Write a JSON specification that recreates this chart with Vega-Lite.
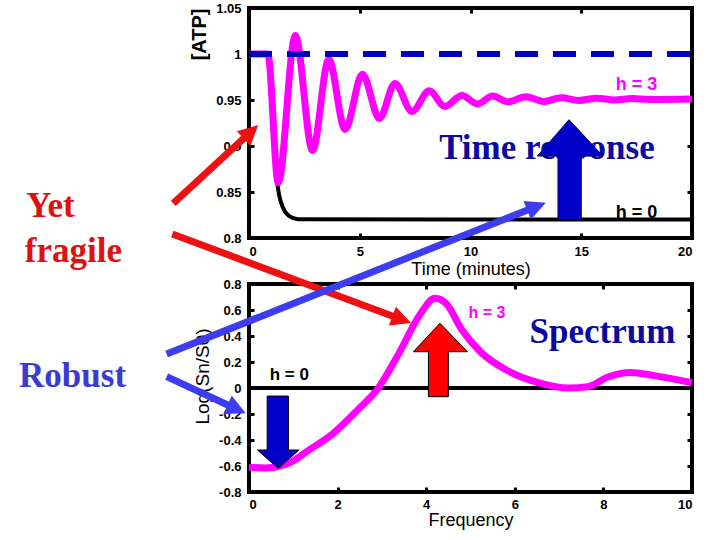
{
  "$schema": "https://vega.github.io/schema/vega-lite/v6.json",
  "background": "white",
  "padding": {"left": 17, "top": 0, "right": 0, "bottom": 0},
  "config": {
    "view": {"stroke": "black", "strokeWidth": 4},
    "font": "Liberation Sans",
    "axis": {"grid": false, "ticks": true, "tickSize": -5, "tickWidth": 3, "tickColor": "black", "domain": false, "labelFont": "Liberation Sans", "labelFontWeight": "bold", "labelFontSize": 13, "labelColor": "black", "titleColor": "black", "titleFont": "Liberation Sans"}
  },
  "datasets": {
    "atp_h3": [
      {"t": 0, "v": 1}, {"t": 0.85, "v": 1}, {"t": 1.32, "v": 0.86}, {"t": 2.09, "v": 1.02},
      {"t": 2.87, "v": 0.895}, {"t": 3.6, "v": 0.994}, {"t": 4.34, "v": 0.918}, {"t": 5.12, "v": 0.978},
      {"t": 5.89, "v": 0.93}, {"t": 6.59, "v": 0.968}, {"t": 7.36, "v": 0.9375}, {"t": 8.14, "v": 0.96},
      {"t": 8.84, "v": 0.943}, {"t": 9.61, "v": 0.955}, {"t": 10.31, "v": 0.9457}, {"t": 11.0, "v": 0.9543},
      {"t": 11.7, "v": 0.948}, {"t": 12.5, "v": 0.9535}, {"t": 13.3, "v": 0.9485}, {"t": 14.1, "v": 0.9525},
      {"t": 14.9, "v": 0.9495}, {"t": 15.7, "v": 0.952}, {"t": 16.5, "v": 0.95}, {"t": 17.3, "v": 0.9515},
      {"t": 18.1, "v": 0.9505}, {"t": 20, "v": 0.951}
    ],
    "atp_h0": [
      {"t": 0, "v": 1}, {"t": 0.9, "v": 1}, {"t": 1.05, "v": 0.93}, {"t": 1.2, "v": 0.875},
      {"t": 1.35, "v": 0.848}, {"t": 1.55, "v": 0.832}, {"t": 1.8, "v": 0.824}, {"t": 2.2, "v": 0.8205},
      {"t": 20, "v": 0.82}
    ],
    "atp_base": [{"t": 0, "v": 1}, {"t": 20, "v": 1}],
    "spec_h3": [
      {"t": 0, "v": -0.61}, {"t": 0.35, "v": -0.615}, {"t": 0.7, "v": -0.6}, {"t": 1.0, "v": -0.56},
      {"t": 1.3, "v": -0.49}, {"t": 1.9, "v": -0.35}, {"t": 2.45, "v": -0.17}, {"t": 2.92, "v": 0},
      {"t": 3.39, "v": 0.27}, {"t": 3.85, "v": 0.56}, {"t": 4.2, "v": 0.69}, {"t": 4.45, "v": 0.65},
      {"t": 4.8, "v": 0.45}, {"t": 5.25, "v": 0.27}, {"t": 5.8, "v": 0.14}, {"t": 6.55, "v": 0.04},
      {"t": 7.2, "v": 0.0}, {"t": 7.65, "v": 0.01}, {"t": 8.1, "v": 0.085}, {"t": 8.6, "v": 0.12},
      {"t": 9.15, "v": 0.095}, {"t": 10, "v": 0.04}
    ],
    "spec_h0": [{"t": 0, "v": 0}, {"t": 10, "v": 0}]
  },
  "vconcat": [
    {
      "width": 443,
      "height": 230,
      "resolve": {"axis": {"x": "independent", "y": "independent"}},
      "layer": [
        {
          "encoding": {
            "x": {"field": "t", "type": "quantitative", "scale": {"domain": [0, 20], "nice": false, "zero": false},
              "axis": {"values": [0, 5, 10, 15, 20], "title": "Time (minutes)", "titleFontSize": 18, "titleFontWeight": "normal", "titlePadding": 2, "labelPadding": 12}},
            "y": {"field": "v", "type": "quantitative", "scale": {"domain": [0.8, 1.05], "nice": false, "zero": false},
              "axis": {"values": [0.8, 0.85, 0.9, 0.95, 1, 1.05], "labelExpr": "replace(format(datum.value, '~g'), '\u2212', '-')", "title": "[ATP]", "titleAnchor": "end", "titleFontSize": 20, "titleFontWeight": "bold", "titlePadding": 6, "labelPadding": 13}}
          },
          "layer": [
            {"data": {"name": "atp_h0"}, "mark": {"type": "line", "color": "black", "strokeWidth": 4, "interpolate": "monotone"}},
            {"data": {"name": "atp_h3"}, "mark": {"type": "line", "color": "#ff00ff", "strokeWidth": 7, "interpolate": "monotone"}},
            {"data": {"name": "atp_base"}, "mark": {"type": "line", "color": "#0000c0", "strokeWidth": 6, "strokeDash": [23, 15]}},
            {"data": {"values": [{"t": 17.5, "v": 0.961, "label": "h = 3"}]},
              "mark": {"type": "text", "color": "#ff00ff", "fontSize": 18, "fontWeight": "bold", "align": "center", "baseline": "alphabetic"},
              "encoding": {"text": {"field": "label"}}},
            {"data": {"values": [{"t": 17.5, "v": 0.8215, "label": "h = 0"}]},
              "mark": {"type": "text", "color": "black", "fontSize": 18, "fontWeight": "bold", "align": "center", "baseline": "alphabetic"},
              "encoding": {"text": {"field": "label"}}},
            {"data": {"values": [{"t": 13.45, "v": 0.886, "label": "Time response"}]},
              "mark": {"type": "text", "color": "#0a0aa0", "font": "Liberation Serif", "fontSize": 35, "fontWeight": "bold", "align": "center", "baseline": "alphabetic"},
              "encoding": {"text": {"field": "label"}}},
            {"data": {"values": [
                {"v": 0.82, "t": 13.95, "t2": 15.0},
                {"v": 0.889, "t": 13.95, "t2": 15.0},
                {"v": 0.8891, "t": 13.02, "t2": 15.97},
                {"v": 0.9286, "t": 14.45, "t2": 14.45}]},
              "mark": {"type": "area", "orient": "horizontal", "color": "#0000c8", "stroke": "#00005a", "strokeWidth": 1, "opacity": 1},
              "encoding": {"x2": {"field": "t2"}}},
            {"data": {"values": [{"t": -3.42, "v": 0.8377, "t2": 0.02, "v2": 0.914}]},
              "mark": {"type": "rule", "color": "#ee1111", "strokeWidth": 7},
              "encoding": {"x2": {"field": "t2"}, "y2": {"field": "v2"}}},
            {"data": {"values": [{"t": 0.42, "v": 0.9228}]},
              "mark": {"type": "point", "shape": "M0,0L-1,2L1,2Z", "size": 400, "filled": true, "opacity": 1, "color": "#ee1111", "angle": 47.4}}
          ]
        },
        {
          "data": {"name": "atp_base"},
          "mark": {"type": "line", "opacity": 0},
          "encoding": {
            "x": {"field": "t", "type": "quantitative", "scale": {"domain": [0, 20], "nice": false, "zero": false},
              "axis": {"orient": "top", "values": [5, 10, 15], "labels": false, "title": null}},
            "y": {"field": "v", "type": "quantitative", "scale": {"domain": [0.8, 1.05], "nice": false, "zero": false},
              "axis": {"orient": "right", "values": [0.85, 0.9, 0.95, 1], "labels": false, "title": null}}
          }
        }
      ]
    },
    {
      "width": 443,
      "height": 208,
      "resolve": {"axis": {"x": "independent", "y": "independent"}},
      "layer": [
        {
          "encoding": {
            "x": {"field": "t", "type": "quantitative", "scale": {"domain": [0, 10], "nice": false, "zero": false},
              "axis": {"values": [0, 2, 4, 6, 8, 10], "title": "Frequency", "titleFontSize": 18, "titleFontWeight": "normal", "titlePadding": 0, "labelPadding": 11}},
            "y": {"field": "v", "type": "quantitative", "scale": {"domain": [-0.8, 0.8], "nice": false, "zero": false},
              "axis": {"values": [-0.8, -0.6, -0.4, -0.2, 0, 0.2, 0.4, 0.6, 0.8], "labelExpr": "replace(format(datum.value, '~g'), '\u2212', '-')", "title": "Log(Sn/S0)", "titleFontSize": 19, "titleFontWeight": "normal", "titlePadding": 6, "titleY": 92, "labelPadding": 13}}
          },
          "layer": [
            {"data": {"name": "spec_h0"}, "mark": {"type": "line", "color": "black", "strokeWidth": 4}},
            {"data": {"name": "spec_h3"}, "mark": {"type": "line", "color": "#ff00ff", "strokeWidth": 7, "interpolate": "monotone"}},
            {"data": {"values": [{"t": 5.37, "v": 0.541, "label": "h = 3"}]},
              "mark": {"type": "text", "color": "#ff00ff", "fontSize": 16, "fontWeight": "bold", "align": "center", "baseline": "alphabetic"},
              "encoding": {"text": {"field": "label"}}},
            {"data": {"values": [{"t": 0.91, "v": 0.062, "label": "h = 0"}]},
              "mark": {"type": "text", "color": "black", "fontSize": 17, "fontWeight": "bold", "align": "center", "baseline": "alphabetic"},
              "encoding": {"text": {"field": "label"}}},
            {"data": {"values": [{"t": 7.98, "v": 0.345, "label": "Spectrum"}]},
              "mark": {"type": "text", "color": "#0a0aa0", "font": "Liberation Serif", "fontSize": 35, "fontWeight": "bold", "align": "center", "baseline": "alphabetic"},
              "encoding": {"text": {"field": "label"}}},
            {"data": {"values": [{"t": -5.03, "v": 1.313, "label": "Yet"}, {"t": -5.06, "v": 0.972, "label": "fragile"}]},
              "mark": {"type": "text", "color": "#e01010", "font": "Liberation Serif", "fontSize": 35, "fontWeight": "bold", "align": "left", "baseline": "alphabetic"},
              "encoding": {"text": {"field": "label"}}},
            {"data": {"values": [{"t": -5.19, "v": 0.0054, "label": "Robust"}]},
              "mark": {"type": "text", "color": "#3a3ad6", "font": "Liberation Serif", "fontSize": 35, "fontWeight": "bold", "align": "left", "baseline": "alphabetic"},
              "encoding": {"text": {"field": "label"}}},
            {"data": {"values": [
                {"v": -0.067, "t": 4.05, "t2": 4.5},
                {"v": 0.279, "t": 4.05, "t2": 4.5},
                {"v": 0.2791, "t": 3.71, "t2": 4.93},
                {"v": 0.498, "t": 4.31, "t2": 4.31}]},
              "mark": {"type": "area", "orient": "horizontal", "color": "#ff0000", "stroke": "black", "strokeWidth": 1, "opacity": 1},
              "encoding": {"x2": {"field": "t2"}}},
            {"data": {"values": [
                {"v": -0.618, "t": 0.66, "t2": 0.66},
                {"v": -0.477, "t": 0.19, "t2": 1.13},
                {"v": -0.4769, "t": 0.41, "t2": 0.89},
                {"v": -0.062, "t": 0.41, "t2": 0.89}]},
              "mark": {"type": "area", "orient": "horizontal", "color": "#0000c8", "stroke": "black", "strokeWidth": 1, "opacity": 1},
              "encoding": {"x2": {"field": "t2"}}},
            {"data": {"values": [{"t": -1.731, "v": 1.185, "t2": 3.4, "v2": 0.532}]},
              "mark": {"type": "rule", "color": "#ee1111", "strokeWidth": 7},
              "encoding": {"x2": {"field": "t2"}, "y2": {"field": "v2"}}},
            {"data": {"values": [{"t": 3.66, "v": 0.5}]},
              "mark": {"type": "point", "shape": "M0,0L-1,2L1,2Z", "size": 400, "filled": true, "opacity": 1, "color": "#ee1111", "angle": 110.4}},
            {"data": {"values": [{"t": -1.858, "v": 0.2615, "t2": 6.447, "v2": 1.391}, {"t": -1.858, "v": 0.087, "t2": -0.32, "v2": -0.156}]},
              "mark": {"type": "rule", "color": "#3c3cf0", "strokeWidth": 7},
              "encoding": {"x2": {"field": "t2"}, "y2": {"field": "v2"}}},
            {"data": {"values": [{"t": 6.7, "v": 1.425}]},
              "mark": {"type": "point", "shape": "M0,0L-1,2L1,2Z", "size": 400, "filled": true, "opacity": 1, "color": "#3c3cf0", "angle": 68.2}},
            {"data": {"values": [{"t": -0.074, "v": -0.195}]},
              "mark": {"type": "point", "shape": "M0,0L-1,2L1,2Z", "size": 400, "filled": true, "opacity": 1, "color": "#3c3cf0", "angle": 114.9}}
          ]
        },
        {
          "data": {"name": "spec_h0"},
          "mark": {"type": "line", "opacity": 0},
          "encoding": {
            "x": {"field": "t", "type": "quantitative", "scale": {"domain": [0, 10], "nice": false, "zero": false},
              "axis": {"orient": "top", "values": [2, 4, 6, 8], "labels": false, "title": null}},
            "y": {"field": "v", "type": "quantitative", "scale": {"domain": [-0.8, 0.8], "nice": false, "zero": false},
              "axis": {"orient": "right", "values": [-0.6, -0.4, -0.2, 0, 0.2, 0.4, 0.6], "labels": false, "title": null}}
          }
        }
      ]
    }
  ],
  "spacing": 46,
  "bounds": "flush"
}
